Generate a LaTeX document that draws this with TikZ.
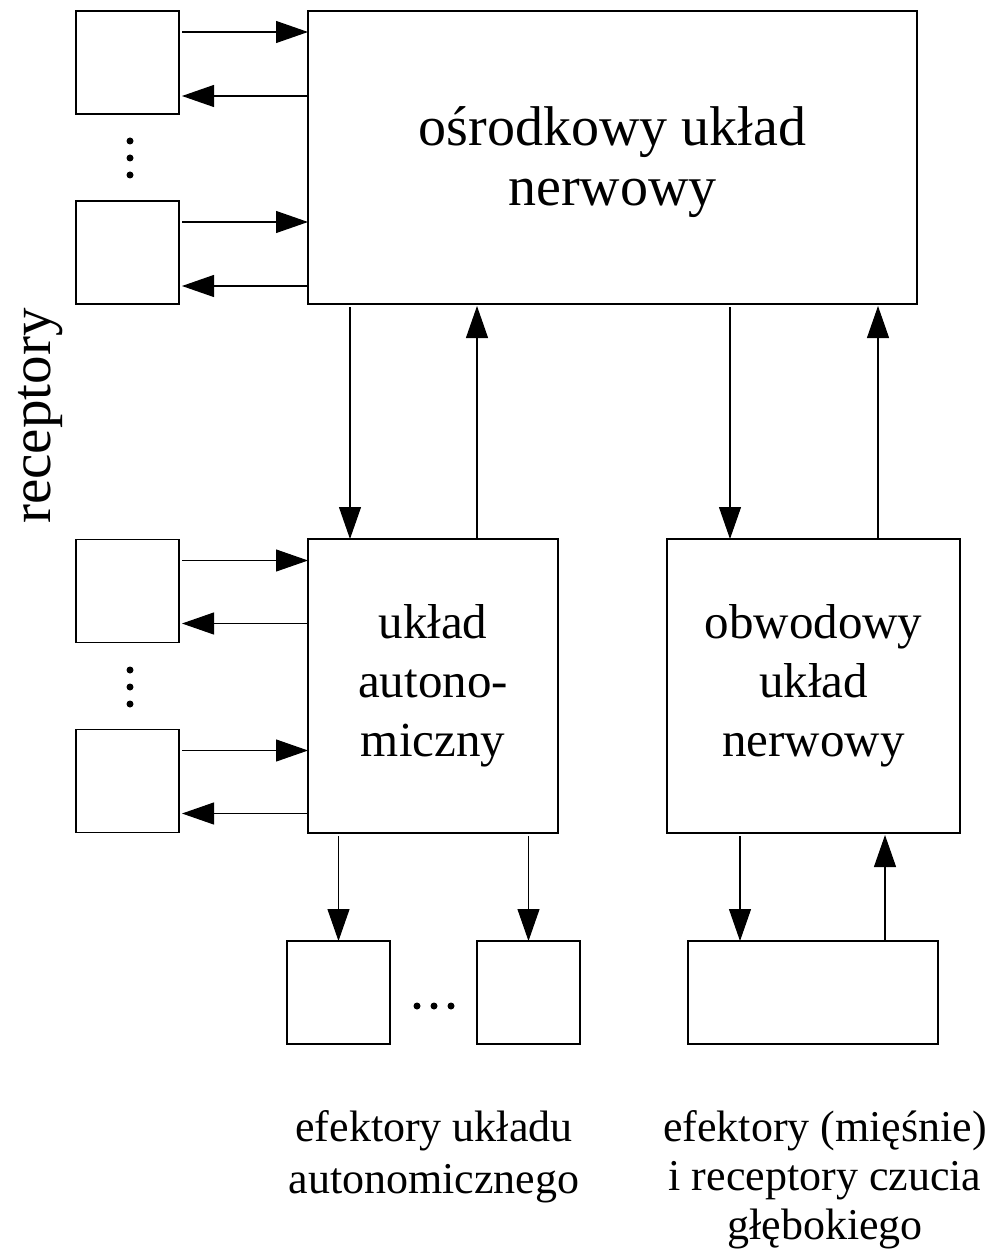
\documentclass[tikz,border=0pt]{standalone}
\usepackage{fontspec}
\setmainfont{Liberation Serif}
\usetikzlibrary{arrows.meta,calc}
\begin{document}
\begin{tikzpicture}[x=1pt,y=-1pt,
 box/.style={draw, line width=1.8pt, inner sep=0pt, outer sep=0pt, align=center},
 small/.style={box, minimum width=103pt, minimum height=103pt},
 arr/.style={line width=1.1pt, -{Triangle[length=32pt,width=22pt]}},
 lbl/.style={inner sep=0pt, align=center},
]
\fill[white] (0,0) rectangle (992,1249);
\useasboundingbox (0,0) rectangle (992,1249);

% receptors
\node[small] (r1) at (127.5,62.5) {};
\node[small] (r2) at (127.5,252.5) {};
\node[small] (r3) at (127.5,591) {};
\node[small] (r4) at (127.5,781) {};

% main boxes
\node[box, minimum width=609pt, minimum height=293pt, font=\fontsize{56}{60}\selectfont] (cns) at (612.5,157.5) {\rule{0pt}{48pt}ośrodkowy układ\\nerwowy};
\node[box, minimum width=250pt, minimum height=294pt, font=\fontsize{49}{59}\selectfont] (aut) at (433,686) {układ\\autono-\\miczny};
\node[box, minimum width=293pt, minimum height=294pt, font=\fontsize{49}{59}\selectfont] (pns) at (813.5,686) {obwodowy\\układ\\nerwowy};

% effectors
\node[small] (e1) at (338.5,992.5) {};
\node[small] (e2) at (528.5,992.5) {};
\node[box, minimum width=250pt, minimum height=103pt] (e3) at (813,992.5) {};

% receptor <-> cns
\foreach \r in {r1,r2}{
  \draw[arr] ($(\r.north east)+(3,21)$) -- ($(\r.north east -| cns.west)+(0,21)$);
  \draw[arr] ($(\r.south east -| cns.west)+(0,-18)$) -- ($(\r.south east)+(3,-18)$);
}
% receptor <-> aut
\foreach \r in {r3,r4}{
  \draw[arr] ($(\r.north east)+(3,21)$) -- ($(\r.north east -| aut.west)+(0,21)$);
  \draw[arr] ($(\r.south east -| aut.west)+(0,-19)$) -- ($(\r.south east)+(3,-19)$);
}

% cns <-> aut
\draw[arr] ($(cns.south west)+(42,3)$) -- ($(aut.north west)+(42,0)$);
\draw[arr] ($(aut.north west)+(169,0)$) -- ($(cns.south west)+(169,2)$);
% cns <-> pns
\draw[arr] ($(cns.south -| pns.north west)+(63,3)$) -- ($(pns.north west)+(63,0)$);
\draw[arr] ($(pns.north west)+(211,0)$) -- ($(cns.south -| pns.north west)+(211,2)$);

% aut -> effectors
\draw[arr] ($(aut.south -| e1.north)+(0,3)$) -- (e1.north);
\draw[arr] ($(aut.south -| e2.north)+(0,3)$) -- (e2.north);
% pns <-> e3
\draw[arr] ($(pns.south -| e3.north west)+(52,3)$) -- ($(e3.north west)+(52,0)$);
\draw[arr] ($(e3.north west)+(197,0)$) -- ($(pns.south -| e3.north west)+(197,2)$);

% dots
\foreach \y in {141,158,175,670,687,704}{\fill (130,\y) circle (3.5pt);}
\foreach \x in {417,434,451}{\fill (\x,1006) circle (3.5pt);}

% labels
\node[lbl, rotate=90, anchor=base, font=\fontsize{57}{60}\selectfont] (rec) at (50,416) {receptory};
\node[lbl, anchor=north, font=\fontsize{44}{52}\selectfont] (lab1) at (434,1110) {efektory układu\\autonomicznego};
\node[lbl, anchor=north, font=\fontsize{44}{49}\selectfont] (lab2) at (825,1110) {efektory (mięśnie)\\i receptory czucia\\głębokiego};
\end{tikzpicture}
\end{document}
